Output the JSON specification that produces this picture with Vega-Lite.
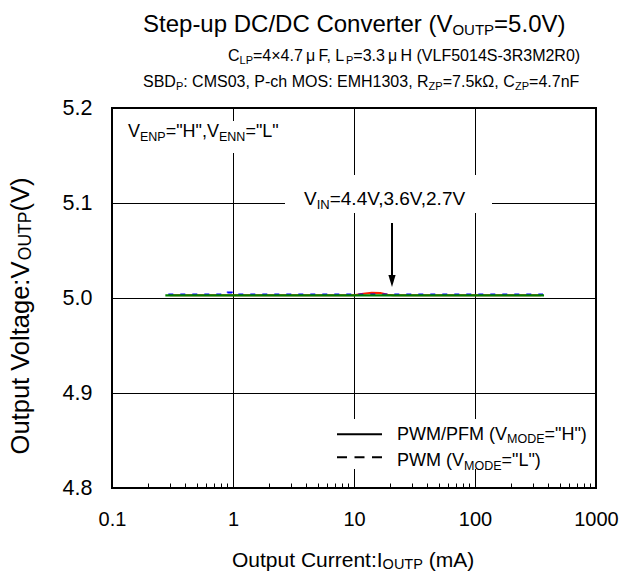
{
  "$schema": "https://vega.github.io/schema/vega-lite/v6.json",
  "width": 484,
  "height": 380,
  "autosize": {"type": "none"},
  "padding": {"left": 112, "top": 108, "right": 26, "bottom": 86},
  "background": "white",
  "config": {
    "font": "Liberation Sans",
    "view": {"stroke": "#000", "strokeWidth": 2},
    "axis": {"labelFont": "Liberation Sans", "labelColor": "#000"},
    "text": {"align": "left", "baseline": "alphabetic", "font": "Liberation Sans", "color": "#000"}
  },
  "datasets": {
    "curves": [
      {"series": "a", "vin": "4.4V", "mode": "PWM/PFM", "x": 0.3, "y": 5.0028},
      {"series": "a", "vin": "4.4V", "mode": "PWM/PFM", "x": 1, "y": 5.0028},
      {"series": "a", "vin": "4.4V", "mode": "PWM/PFM", "x": 5, "y": 5.0028},
      {"series": "a", "vin": "4.4V", "mode": "PWM/PFM", "x": 10, "y": 5.0028},
      {"series": "a", "vin": "4.4V", "mode": "PWM/PFM", "x": 11.5, "y": 5.0042},
      {"series": "a", "vin": "4.4V", "mode": "PWM/PFM", "x": 14, "y": 5.0054},
      {"series": "a", "vin": "4.4V", "mode": "PWM/PFM", "x": 16.5, "y": 5.0052},
      {"series": "a", "vin": "4.4V", "mode": "PWM/PFM", "x": 19, "y": 5.0034},
      {"series": "a", "vin": "4.4V", "mode": "PWM/PFM", "x": 21, "y": 5.0028},
      {"series": "a", "vin": "4.4V", "mode": "PWM/PFM", "x": 50, "y": 5.0028},
      {"series": "a", "vin": "4.4V", "mode": "PWM/PFM", "x": 100, "y": 5.0028},
      {"series": "a", "vin": "4.4V", "mode": "PWM/PFM", "x": 350, "y": 5.0028},
      {"series": "b", "vin": "3.6V", "mode": "PWM", "x": 0.292, "y": 5.0038},
      {"series": "b", "vin": "3.6V", "mode": "PWM", "x": 0.5, "y": 5.0038},
      {"series": "b", "vin": "3.6V", "mode": "PWM", "x": 0.88, "y": 5.0038},
      {"series": "b", "vin": "3.6V", "mode": "PWM", "x": 0.9, "y": 5.0057},
      {"series": "b", "vin": "3.6V", "mode": "PWM", "x": 0.98, "y": 5.0057},
      {"series": "b", "vin": "3.6V", "mode": "PWM", "x": 1.0, "y": 5.0038},
      {"series": "b", "vin": "3.6V", "mode": "PWM", "x": 10, "y": 5.0038},
      {"series": "b", "vin": "3.6V", "mode": "PWM", "x": 100, "y": 5.0038},
      {"series": "b", "vin": "3.6V", "mode": "PWM", "x": 365, "y": 5.0038},
      {"series": "c", "vin": "2.7V", "mode": "PWM/PFM", "x": 0.276, "y": 5.0027},
      {"series": "c", "vin": "2.7V", "mode": "PWM/PFM", "x": 1, "y": 5.0027},
      {"series": "c", "vin": "2.7V", "mode": "PWM/PFM", "x": 10, "y": 5.0027},
      {"series": "c", "vin": "2.7V", "mode": "PWM/PFM", "x": 100, "y": 5.0027},
      {"series": "c", "vin": "2.7V", "mode": "PWM/PFM", "x": 372, "y": 5.0027}
    ],
    "boxes": [
      {"x": 0.10388, "x2": 2.9586, "y": 5.18632, "y2": 5.15263},
      {"x": 2.6897, "x2": 138.2, "y": 5.12947, "y2": 5.08947},
      {"x": 6.3336, "x2": 926.6, "y": 4.87263, "y2": 4.82}
    ],
    "arrow": [
      {"x": 20.606, "y": 5.07895, "y2": 5.02211, "hy": 5.01789}
    ],
    "legendlines": [
      {"mode": "PWM/PFM", "x": 7.2363, "x2": 17.035, "y": 4.85653},
      {"mode": "PWM", "x": 7.2363, "x2": 17.035, "y": 4.83232}
    ],
    "texts": [
      {"role": "title", "x": 0.18042, "y": 5.28, "text": "Step-up DC/DC Converter (V"},
      {"role": "titlesub", "x": 65.06, "y": 5.27684, "text": "OUTP"},
      {"role": "title", "x": 143.84, "y": 5.28, "text": "=5.0V)"},
      {"role": "sub", "x": 0.9093, "y": 5.24895, "text": "C"},
      {"role": "subsub", "x": 1.1339, "y": 5.24632, "text": "LP"},
      {"role": "sub", "x": 1.4635, "y": 5.24895, "text": "=4×4.7\u2009μ\u2009F, L"},
      {"role": "subsub", "x": 8.587, "y": 5.24632, "text": "P"},
      {"role": "sub", "x": 9.868, "y": 5.24895, "text": "=3.3\u2009μ\u2009H (VLF5014S-3R3M2R0)"},
      {"role": "sub", "x": 0.18042, "y": 5.22211, "text": "SBD"},
      {"role": "subsub", "x": 0.3374, "y": 5.21895, "text": "P"},
      {"role": "sub", "x": 0.3877, "y": 5.22211, "text": ": CMS03, P-ch MOS: EMH1303, R"},
      {"role": "subsub", "x": 41.36, "y": 5.21895, "text": "ZP"},
      {"role": "sub", "x": 54.08, "y": 5.22211, "text": "=7.5kΩ, C"},
      {"role": "subsub", "x": 214.1, "y": 5.21895, "text": "ZP"},
      {"role": "sub", "x": 280.0, "y": 5.22211, "text": "=4.7nF"},
      {"role": "label", "x": 0.13561, "y": 5.16947, "text": "V"},
      {"role": "labelsub", "x": 0.17036, "y": 5.16526, "text": "ENP"},
      {"role": "label", "x": 0.27789, "y": 5.16947, "text": "=\"H\",V"},
      {"role": "labelsub", "x": 0.7661, "y": 5.16526, "text": "ENN"},
      {"role": "label", "x": 1.266, "y": 5.16947, "text": "=\"L\""},
      {"role": "vin", "x": 3.8617, "y": 5.09789, "text": "V"},
      {"role": "vinsub", "x": 4.9174, "y": 5.09368, "text": "IN"},
      {"role": "vin", "x": 6.2975, "y": 5.09789, "text": "=4.4V,3.6V,2.7V"},
      {"role": "label", "x": 22.666, "y": 4.85105, "text": "PWM/PFM (V"},
      {"role": "labelsub", "x": 183.9, "y": 4.84737, "text": "MODE"},
      {"role": "label", "x": 375.3, "y": 4.85105, "text": "=\"H\")"},
      {"role": "label", "x": 22.666, "y": 4.82316, "text": "PWM (V"},
      {"role": "labelsub", "x": 81.11, "y": 4.81947, "text": "MODE"},
      {"role": "label", "x": 165.6, "y": 4.82316, "text": "=\"L\")"},
      {"role": "axt", "x": 0.98116, "y": 4.71684, "text": "Output Current:I"},
      {"role": "axtsub", "x": 17.234, "y": 4.71474, "text": "OUTP"},
      {"role": "axt", "x": 41.44, "y": 4.71684, "text": "(mA)"},
      {"role": "yt", "x": 0.020416, "y": 4.83537, "text": "Output Voltage:V"},
      {"role": "ytsub", "x": 0.02141, "y": 5.03979, "text": "OUTP"},
      {"role": "yt", "x": 0.020416, "y": 5.09095, "text": "(V)"}
    ]
  },
  "encoding": {
    "x": {
      "field": "x",
      "type": "quantitative",
      "scale": {"type": "log", "domain": [0.1, 1000], "nice": false},
      "axis": {
        "title": null,
        "values": [0.1, 0.2, 0.3, 0.4, 0.5, 0.6, 0.7, 0.8, 0.9, 1, 2, 3, 4, 5, 6, 7, 8, 9, 10, 20, 30, 40, 50, 60, 70, 80, 90, 100, 200, 300, 400, 500, 600, 700, 800, 900, 1000],
        "format": "~g",
        "labelExpr": "indexof([0.1,1,10,100,1000], datum.value) >= 0 ? datum.label : ''",
        "labelFontSize": 20,
        "labelPadding": 26,
        "labelFlush": false,
        "labelOverlap": false,
        "labelBound": false,
        "domain": false,
        "ticks": true,
        "tickSize": -5,
        "tickColor": "#000",
        "tickWidth": 1,
        "grid": true,
        "gridColor": "#000",
        "gridWidth": 1,
        "gridOpacity": {"condition": {"test": "indexof([0.1,1,10,100,1000], datum.value) >= 0", "value": 1}, "value": 0}
      }
    },
    "y": {
      "field": "y",
      "type": "quantitative",
      "scale": {"domain": [4.8, 5.2], "nice": false, "zero": false},
      "axis": {
        "title": null,
        "values": [4.8, 4.9, 5.0, 5.1, 5.2],
        "format": ".1f",
        "labelFontSize": 21.5,
        "labelPadding": 20,
        "labelFlush": false,
        "labelOverlap": false,
        "domain": false,
        "ticks": false,
        "grid": true,
        "gridColor": "#000",
        "gridWidth": 1
      }
    }
  },
  "layer": [
    {
      "data": {"name": "curves"},
      "transform": [{"filter": "datum.series === 'a'"}],
      "mark": {"type": "line", "strokeWidth": 2},
      "encoding": {
        "color": {"field": "vin", "type": "nominal", "scale": {"domain": ["4.4V", "3.6V", "2.7V"], "range": ["#ff2000", "#0000ff", "#008000"]}, "legend": null}
      }
    },
    {
      "data": {"name": "curves"},
      "transform": [{"filter": "datum.series === 'b'"}],
      "mark": {"type": "line", "strokeWidth": 2, "strokeDash": [5, 7]},
      "encoding": {
        "color": {"field": "vin", "type": "nominal", "scale": {"domain": ["4.4V", "3.6V", "2.7V"], "range": ["#ff2000", "#0000ff", "#008000"]}, "legend": null}
      }
    },
    {
      "data": {"name": "curves"},
      "transform": [{"filter": "datum.series === 'c'"}],
      "mark": {"type": "line", "strokeWidth": 2.2},
      "encoding": {
        "color": {"field": "vin", "type": "nominal", "scale": {"domain": ["4.4V", "3.6V", "2.7V"], "range": ["#ff2000", "#0000ff", "#008000"]}, "legend": null}
      }
    },
    {
      "data": {"name": "boxes"},
      "mark": {"type": "rect", "fill": "#fff", "stroke": null},
      "encoding": {"x2": {"field": "x2"}, "y2": {"field": "y2"}}
    },
    {
      "data": {"name": "arrow"},
      "mark": {"type": "rule", "color": "#000", "strokeWidth": 2},
      "encoding": {"y2": {"field": "y2"}}
    },
    {
      "data": {"name": "arrow"},
      "mark": {"type": "point", "shape": "M-0.6,-1L0.6,-1L0,1Z", "filled": true, "color": "#000", "opacity": 1, "size": 144},
      "encoding": {"y": {"field": "hy", "type": "quantitative"}}
    },
    {
      "data": {"name": "legendlines"},
      "transform": [{"filter": "datum.mode === 'PWM/PFM'"}],
      "mark": {"type": "rule", "color": "#000", "strokeWidth": 2},
      "encoding": {"x2": {"field": "x2"}}
    },
    {
      "data": {"name": "legendlines"},
      "transform": [{"filter": "datum.mode === 'PWM'"}],
      "mark": {"type": "rule", "color": "#000", "strokeWidth": 2, "strokeDash": [10, 7.5]},
      "encoding": {"x2": {"field": "x2"}}
    },
    {"data": {"name": "texts"}, "transform": [{"filter": "datum.role === 'title'"}], "mark": {"type": "text", "fontSize": 24}, "encoding": {"text": {"field": "text"}}},
    {"data": {"name": "texts"}, "transform": [{"filter": "datum.role === 'titlesub'"}], "mark": {"type": "text", "fontSize": 15}, "encoding": {"text": {"field": "text"}}},
    {"data": {"name": "texts"}, "transform": [{"filter": "datum.role === 'sub'"}], "mark": {"type": "text", "fontSize": 16}, "encoding": {"text": {"field": "text"}}},
    {"data": {"name": "texts"}, "transform": [{"filter": "datum.role === 'subsub'"}], "mark": {"type": "text", "fontSize": 11}, "encoding": {"text": {"field": "text"}}},
    {"data": {"name": "texts"}, "transform": [{"filter": "datum.role === 'label'"}], "mark": {"type": "text", "fontSize": 18}, "encoding": {"text": {"field": "text"}}},
    {"data": {"name": "texts"}, "transform": [{"filter": "datum.role === 'labelsub'"}], "mark": {"type": "text", "fontSize": 12.5}, "encoding": {"text": {"field": "text"}}},
    {"data": {"name": "texts"}, "transform": [{"filter": "datum.role === 'vin'"}], "mark": {"type": "text", "fontSize": 19}, "encoding": {"text": {"field": "text"}}},
    {"data": {"name": "texts"}, "transform": [{"filter": "datum.role === 'vinsub'"}], "mark": {"type": "text", "fontSize": 13}, "encoding": {"text": {"field": "text"}}},
    {"data": {"name": "texts"}, "transform": [{"filter": "datum.role === 'axt'"}], "mark": {"type": "text", "fontSize": 21}, "encoding": {"text": {"field": "text"}}},
    {"data": {"name": "texts"}, "transform": [{"filter": "datum.role === 'axtsub'"}], "mark": {"type": "text", "fontSize": 14.5}, "encoding": {"text": {"field": "text"}}},
    {"data": {"name": "texts"}, "transform": [{"filter": "datum.role === 'yt'"}], "mark": {"type": "text", "fontSize": 25.5, "angle": 270}, "encoding": {"text": {"field": "text"}}},
    {"data": {"name": "texts"}, "transform": [{"filter": "datum.role === 'ytsub'"}], "mark": {"type": "text", "fontSize": 17.5, "angle": 270}, "encoding": {"text": {"field": "text"}}}
  ]
}
